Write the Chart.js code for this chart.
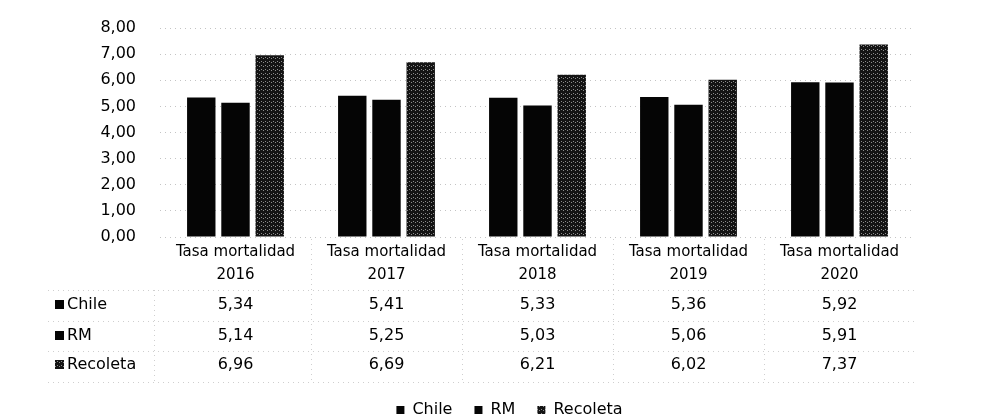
<!DOCTYPE html>
<html>
<head>
<meta charset="utf-8">
<title>Tasa mortalidad</title>
<script src="https://cdn.jsdelivr.net/npm/chart.js"></script>
<style>
  html, body { margin: 0; padding: 0; background: #fff; }
</style>
</head>
<body>
<canvas id="mortalidadChart" width="993" height="419"></canvas>
<script>
// datos de la tabla
const years = ['2016', '2017', '2018', '2019', '2020'];
const labelPrefix = 'Tasa mortalidad';
const seriesNames = ['Chile', 'RM', 'Recoleta'];
const chile = [5.34, 5.41, 5.33, 5.36, 5.92];
const rm = [5.14, 5.25, 5.03, 5.06, 5.91];
const recoleta = [6.96, 6.69, 6.21, 6.02, 7.37];

const fontFamily = '"DejaVu Sans", sans-serif';
const textColor = '#000';

function fmt(v) {
  return v.toFixed(2).replace('.', ',');
}

// trama gris oscura para Recoleta (imita el punteado del original)
function darkDots() {
  const c = document.createElement('canvas');
  c.width = 4; c.height = 4;
  const g = c.getContext('2d');
  g.fillStyle = '#141414';
  g.fillRect(0, 0, 4, 4);
  g.fillStyle = '#8c8c8c';
  g.fillRect(1, 1, 1, 1);
  g.fillRect(3, 2, 1, 1);
  return g.createPattern(c, 'repeat');
}

// la leyenda va un poco más abajo y a la izquierda que la posición por defecto
const moverLeyenda = {
  id: 'moverLeyenda',
  afterLayout(chart) {
    const lg = chart.legend;
    const dx = -28, dy = 9;
    lg.left += dx; lg.right += dx;
    lg.top += dy; lg.bottom += dy;
  }
};

// tabla de datos bajo el eje x
const tablaDatos = {
  id: 'tablaDatos',
  afterDraw(chart) {
    const ctx = chart.ctx;
    const xs = chart.scales.x;
    const area = chart.chartArea;
    const rowOffsets = [68, 99, 128];
    const lineOffsets = [53, 84, 114, 145];
    const tableLeft = area.left - 112;

    ctx.save();
    // bordes punteados tenues
    ctx.strokeStyle = '#cfcfcf';
    ctx.lineWidth = 1;
    ctx.setLineDash([1, 4]);
    ctx.beginPath();
    lineOffsets.forEach(off => {
      ctx.moveTo(tableLeft, area.bottom + off + 0.5);
      ctx.lineTo(area.right, area.bottom + off + 0.5);
    });
    ctx.moveTo(area.left - 5.5, area.bottom + lineOffsets[0]);
    ctx.lineTo(area.left - 5.5, area.bottom + lineOffsets[3]);
    for (let j = 1; j < years.length; j++) {
      const bx = Math.round((xs.getPixelForValue(j - 1) + xs.getPixelForValue(j)) / 2) + 0.5;
      ctx.moveTo(bx, area.bottom + 2);
      ctx.lineTo(bx, area.bottom + lineOffsets[3]);
    }
    ctx.stroke();
    ctx.setLineDash([]);

    ctx.font = '16px ' + fontFamily;
    ctx.textBaseline = 'middle';
    chart.data.datasets.forEach((ds, i) => {
      const y = area.bottom + rowOffsets[i];
      ctx.fillStyle = ds.backgroundColor;
      ctx.fillRect(tableLeft + 7, y - 5, 9, 9);
      ctx.fillStyle = textColor;
      ctx.textAlign = 'left';
      ctx.fillText(ds.label, tableLeft + 19, y);
      ctx.textAlign = 'center';
      ds.data.forEach((v, j) => {
        ctx.fillText(fmt(v), xs.getPixelForValue(j), y);
      });
    });
    ctx.restore();
  }
};

const ctx = document.getElementById('mortalidadChart').getContext('2d');
const recoletaFill = darkDots();

const chart = new Chart(ctx, {
  type: 'bar',
  data: {
    labels: years.map(y => [labelPrefix, y]),
    datasets: [
      { label: seriesNames[0], data: chile, backgroundColor: '#050505' },
      { label: seriesNames[1], data: rm, backgroundColor: '#050505' },
      { label: seriesNames[2], data: recoleta, backgroundColor: recoletaFill }
    ]
  },
  options: {
    responsive: false,
    animation: false,
    devicePixelRatio: 1,
    layout: { padding: { top: 28, right: 78, bottom: 0, left: 0 } },
    datasets: {
      bar: { categoryPercentage: 0.68, barPercentage: 0.83 }
    },
    plugins: {
      legend: {
        position: 'bottom',
        fullSize: false,
        labels: {
          boxWidth: 8,
          boxHeight: 8,
          padding: 22,
          color: textColor,
          font: { family: fontFamily, size: 16 }
        }
      },
      tooltip: { enabled: false }
    },
    scales: {
      x: {
        grid: { display: false, drawTicks: false },
        border: { display: false },
        ticks: {
          color: textColor,
          padding: 3,
          maxRotation: 0,
          font: { family: fontFamily, size: 15, lineHeight: 1.55 }
        },
        afterFit(scale) { scale.height = 134; }
      },
      y: {
        min: 0,
        max: 8,
        grid: { color: '#c4c4c4', drawTicks: false },
        border: { display: false, dash: [1, 4] },
        ticks: {
          stepSize: 1,
          padding: 24,
          color: textColor,
          font: { family: fontFamily, size: 16 },
          callback: v => fmt(v)
        },
        afterFit(scale) {
          scale.width = 160;
          // el padding de las etiquetas no debe empujar el área hacia abajo
          scale.paddingTop = 0;
          scale.paddingBottom = 0;
        }
      }
    }
  },
  plugins: [moverLeyenda, tablaDatos]
});
</script>
</body>
</html>
